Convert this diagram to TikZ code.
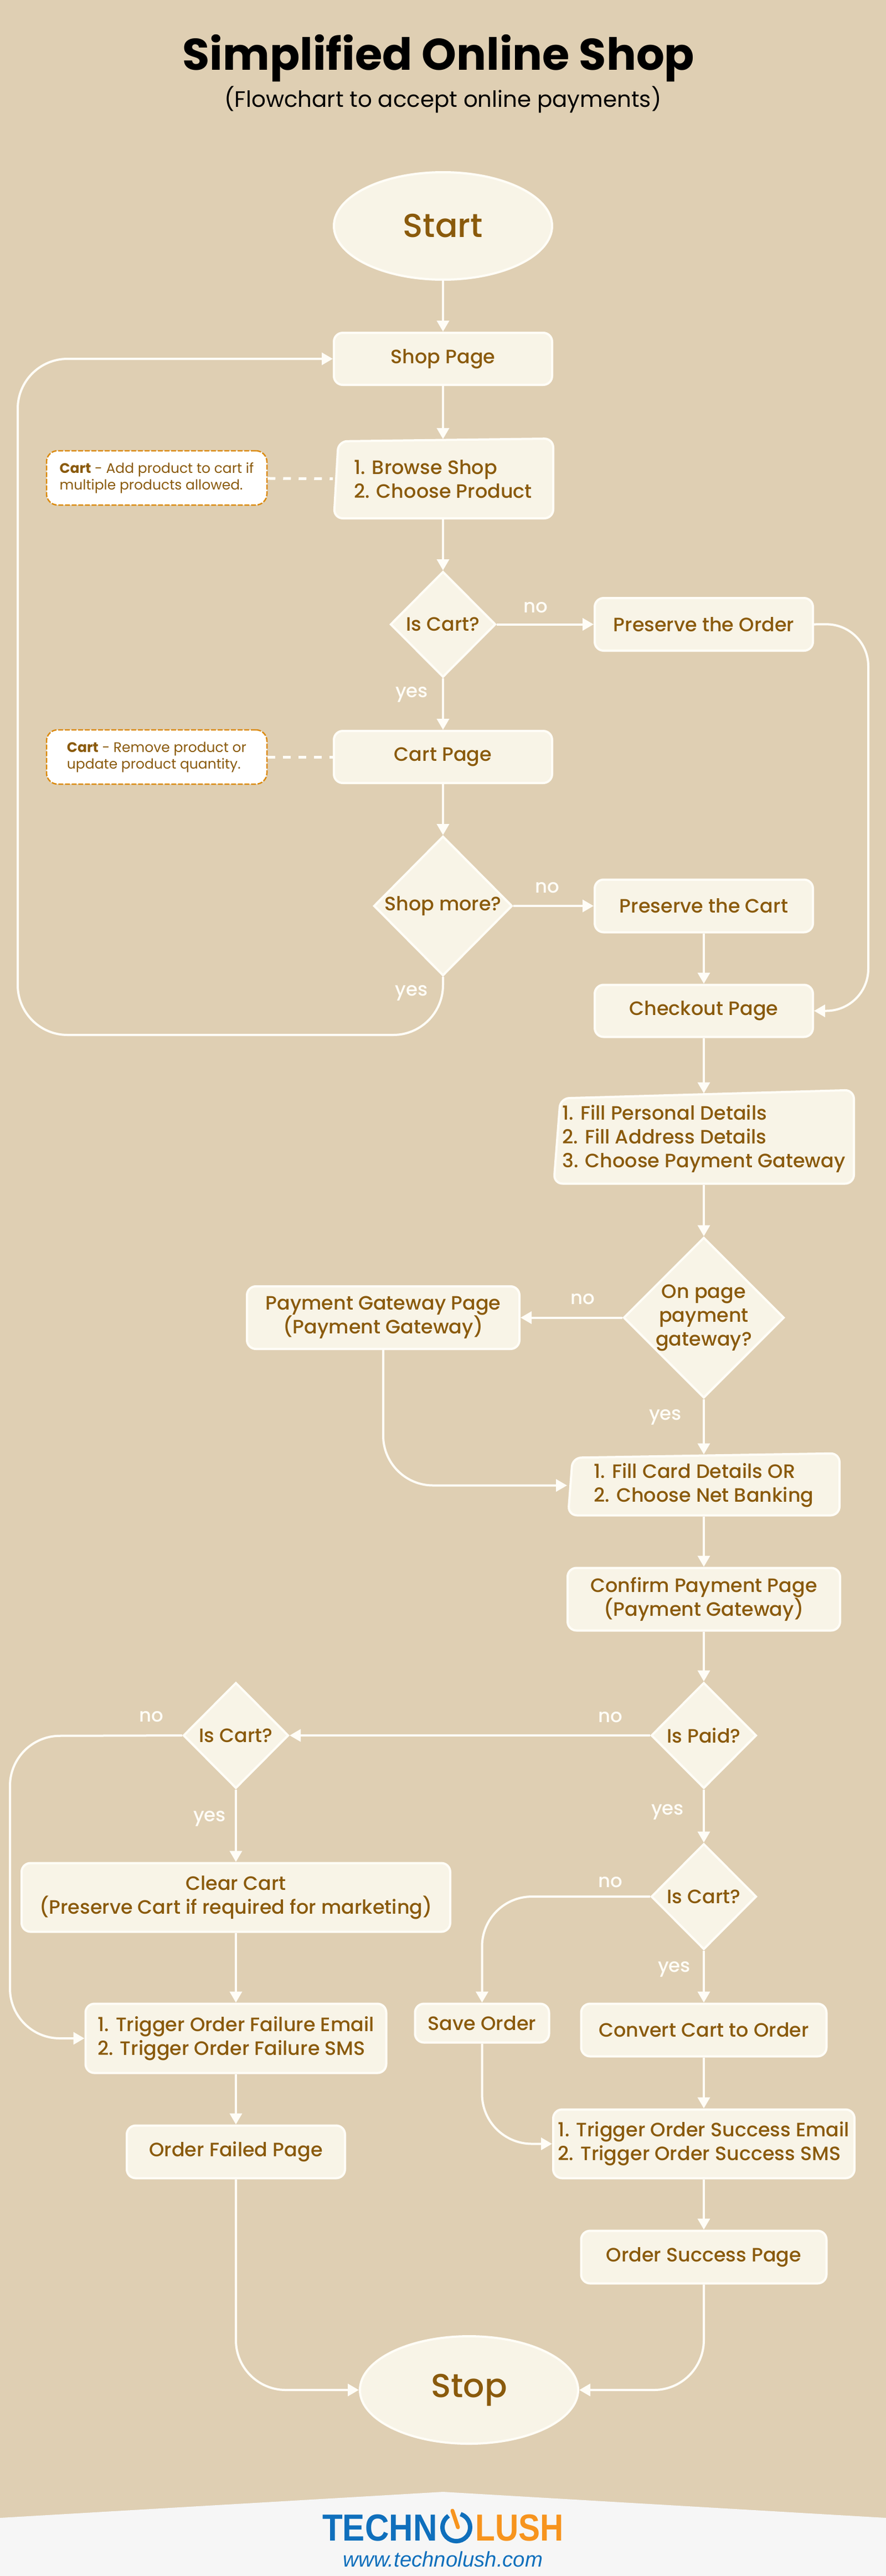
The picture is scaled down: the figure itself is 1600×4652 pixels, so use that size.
\documentclass[tikz,border=0pt]{standalone}
\usepackage{fontspec}
\usepackage{tikz}
\usetikzlibrary{positioning,shapes.geometric,arrows.meta,backgrounds}
\setmainfont{Poppins}
\newfontfamily\medfont{Poppins Medium}
\newfontfamily\logofont{Liberation Sans Bold}
\newfontfamily\urlfont{Liberation Sans Italic}
\definecolor{pagecol}{HTML}{DFCFB3}
\definecolor{boxcol}{HTML}{F8F4E7}
\definecolor{linecol}{HTML}{FFFDF7}
\definecolor{textcol}{HTML}{8A5A0C}
\definecolor{notecol}{HTML}{DB8A0E}
\definecolor{bandcol}{HTML}{F6F6F6}
\definecolor{logoblue}{HTML}{0F6FBC}
\definecolor{logoorange}{HTML}{F7941E}
\tikzset{
  box/.style={rectangle,draw=linecol,fill=boxcol,line width=4pt,rounded corners=16pt,inner sep=0pt,text=textcol,align=center,font=\medfont\fontsize{35}{43}\selectfont},
  skewtext/.style={box,draw=none,fill=none,align=left},
  skewbox/.style={draw=linecol,fill=boxcol,line width=4pt,rounded corners=16pt},
  decision/.style={diamond,draw=linecol,fill=boxcol,line width=4pt,inner sep=0pt,text=textcol,align=center,font=\medfont\fontsize{35}{43}\selectfont},
  terminal/.style={ellipse,draw=linecol,fill=boxcol,line width=4pt,inner sep=0pt,minimum width=394pt,minimum height=194pt,text=textcol,font=\medfont\fontsize{60}{70}\selectfont},
  notebox/.style={rectangle,draw=notecol,fill=white,line width=2.5pt,dash pattern=on 9pt off 3pt,rounded corners=20pt,inner sep=0pt,minimum width=398pt,minimum height=98pt,text=textcol,align=left,font=\fontsize{25}{30}\selectfont},
  conn/.style={->,color=linecol,line width=4pt},
  dashconn/.style={color=linecol,line width=5pt,dash pattern=on 14pt off 14pt},
  lbl/.style={inner sep=0pt,text=linecol,font=\medfont\fontsize{34}{43}\selectfont}
}
\begin{document}
\begin{tikzpicture}[x=1pt,y=-1pt,>={Triangle[length=20pt,width=22pt]}]
\useasboundingbox (0,0) rectangle (1600,4652);
\begin{scope}[on background layer]
\fill[pagecol] (0,0) rectangle (1600,4652);
\fill[bandcol] (0,4547) -- (800,4500) -- (1600,4547) -- (1600,4652) -- (0,4652) -- cycle;
\end{scope}
\node[anchor=base,font=\fontseries{b}\bfseries\fontsize{80}{90}\selectfont](title) at (792,126){Simplified Online Shop};
\node[anchor=base,font=\fontsize{40.4}{50}\selectfont](subtitle) at (800,193){(Flowchart to accept online payments)};
\node[terminal](start) at (800,408){Start};
\node[box,minimum width=394pt,minimum height=94pt,below=92pt of start](shop){Shop Page};
\draw[conn](start) edge (shop);
\node[skewtext,minimum width=394pt,minimum height=141pt,below=96pt of shop](browse){1. Browse Shop\\2. Choose Product};
\draw[conn](shop) edge (browse);
\node[notebox](cartnote) at (283,863){\textbf{Cart} - Add product to cart if\\multiple products allowed.};
\draw[dashconn](cartnote) edge (browse);
\node[decision,minimum width=190pt,minimum height=191pt,below=92pt of browse](iscart){Is Cart?};
\draw[conn](browse) edge (iscart);
\node[box,minimum width=394pt,minimum height=95pt,right=175pt of iscart](presorder){Preserve the Order};
\draw[conn](iscart) edge node[lbl,pos=.4,above=19pt](nocart){no} (presorder);
\node[box,minimum width=394pt,minimum height=94pt,below=93pt of iscart](cartpage){Cart Page};
\draw[conn](iscart) edge node[lbl,pos=.32,left=25pt](yescart){yes} (cartpage);
\node[notebox](updatenote) at (283,1367){\textbf{Cart} - Remove product or\\update product quantity.};
\draw[dashconn](updatenote) edge (cartpage);
\node[decision,minimum width=250pt,minimum height=252pt,below=92pt of cartpage](shopmore){Shop more?};
\draw[conn](cartpage) edge (shopmore);
\node[box,minimum width=394pt,minimum height=95pt,right=145pt of shopmore](prescart){Preserve the Cart};
\draw[conn](shopmore) edge node[lbl,pos=.42,above=21pt](nomore){no} (prescart);
\node[box,minimum width=394pt,minimum height=94pt,below=91pt of prescart](checkout){Checkout Page};
\draw[conn](prescart) edge (checkout);
\coordinate (loopleft) at (32,1869);
\draw[conn,rounded corners=90pt](shopmore.south) |- (loopleft) |- (shop.west);
\node[lbl](yesmore) at (743,1793){yes};
\coordinate (loopright) at (1568,1127);
\draw[conn,rounded corners=76pt](presorder.east) -- (loopright) |- (checkout.east);
\node[skewtext,minimum width=542pt,minimum height=161pt,below=100pt of checkout](details){1. Fill Personal Details\\2. Fill Address Details\\3. Choose Payment Gateway};
\draw[conn](checkout) edge (details);
\node[decision,minimum width=290pt,minimum height=290pt,inner sep=-10pt,below=93pt of details](onpage){On page\\payment\\gateway?};
\draw[conn](details) edge (onpage);
\node[box,minimum width=492pt,minimum height=113pt,left=184pt of onpage](gateway){Payment Gateway Page\\(Payment Gateway)};
\draw[conn](onpage) edge node[lbl,pos=.39,above=22pt](nopage){no} (gateway);
\node[skewtext,minimum width=490pt,minimum height=108pt,below=100pt of onpage](card){1. Fill Card Details OR\\2. Choose Net Banking};
\draw[conn](onpage) edge node[lbl,pos=.33,left=38pt](yespage){yes} (card);
\draw[conn,rounded corners=90pt](gateway.south) |- (card.west);
\node[box,minimum width=492pt,minimum height=113pt,below=91pt of card](confirm){Confirm Payment Page\\(Payment Gateway)};
\draw[conn](card) edge (confirm);
\node[decision,minimum width=190pt,minimum height=191pt,below=90pt of confirm](paid){Is Paid?};
\draw[conn](confirm) edge (paid);
\node[decision,minimum width=190pt,minimum height=191pt,left=651pt of paid](failcart){Is Cart?};
\draw[conn](paid) edge node[lbl,pos=.11,above=21pt](nopaid){no} (failcart);
\node[lbl](nofail) at (273,3100){no};
\node[decision,minimum width=190pt,minimum height=191pt,below=96pt of paid](paycart){Is Cart?};
\draw[conn](paid) edge node[lbl,pos=.43,left=34pt](yespaid){yes} (paycart);
\node[box,minimum width=774pt,minimum height=124pt,below=131pt of failcart](clear){Clear Cart\\(Preserve Cart if required for marketing)};
\draw[conn](failcart) edge node[lbl,pos=.4,left=16pt](yesfail){yes} (clear);
\node[box,align=left,minimum width=543pt,minimum height=125pt,below=126pt of clear](failmsg){1. Trigger Order Failure Email\\2. Trigger Order Failure SMS};
\draw[conn](clear) edge (failmsg);
\coordinate (failbend) at (18,3135);
\draw[conn,rounded corners=90pt](failcart.west) -- (failbend) |- (failmsg.west);
\node[box,minimum width=394pt,minimum height=95pt,below=91pt of failmsg](failed){Order Failed Page};
\draw[conn](failmsg) edge (failed);
\node[box,minimum width=443pt,minimum height=95pt,below=94pt of paycart](convert){Convert Cart to Order};
\draw[conn](paycart) edge node[lbl,pos=.36,left=22pt](yespay){yes} (convert);
\node[box,minimum width=242pt,minimum height=70pt,left=54pt of convert.north west,anchor=north east](save){Save Order};
\draw[conn,rounded corners=90pt](paycart.west) -| (save.north);
\node[lbl](nopay) at (1102,3399){no};
\node[box,align=left,minimum width=544pt,minimum height=124pt,below=92pt of convert](succmsg){1. Trigger Order Success Email\\2. Trigger Order Success SMS};
\draw[conn](convert) edge (succmsg);
\draw[conn,rounded corners=90pt](save.south) |- (succmsg.west);
\node[box,minimum width=443pt,minimum height=95pt,below=91pt of succmsg](success){Order Success Page};
\draw[conn](succmsg) edge (success);
\node[terminal](stop) at (847,4316){Stop};
\draw[conn,rounded corners=90pt](failed.south) |- (stop.west);
\draw[conn,rounded corners=90pt](success.south) |- (stop.east);
\begin{scope}[on background layer]
\draw[skewbox] ([xshift=10pt,yshift=-4pt]browse.north west) -- ([yshift=1pt]browse.north east) -- ([yshift=2pt]browse.south east) -- ([xshift=2pt,yshift=2pt]browse.south west) -- cycle;
\draw[skewbox] ([xshift=14pt,yshift=-9pt]details.north west) -- ([xshift=-2pt,yshift=6pt]details.north east) -- ([xshift=-2pt,yshift=2pt]details.south east) -- ([xshift=2pt,yshift=2pt]details.south west) -- cycle;
\draw[skewbox] ([xshift=10pt,yshift=-6pt]card.north west) -- ([xshift=-2pt,yshift=2pt]card.north east) -- ([xshift=-2pt,yshift=2pt]card.south east) -- ([xshift=2pt,yshift=2pt]card.south west) -- cycle;
\end{scope}
\node[anchor=base west,text=logoblue,inner sep=0pt,font=\logofont\fontsize{68}{70}\selectfont](logoleft) at (582,4588){\scalebox{.885}[1]{TECHN}};
\node[anchor=base east,text=logoorange,inner sep=0pt,font=\logofont\fontsize{68}{70}\selectfont](logoright) at (1018,4588){\scalebox{.86}[1]{LUSH}};
\coordinate (ring) at (824,4564);
\draw[logoblue,line width=8pt] ([shift={(124:25pt)}]ring) arc[start angle=124,end angle=432,radius=25pt];
\draw[logoorange,line width=7pt,line cap=round] (817,4534) -- (827,4564);
\node[anchor=base,text=logoblue,inner sep=0pt,font=\urlfont\fontsize{38.4}{42}\selectfont](url) at (800,4635){www.technolush.com};
\end{tikzpicture}
\end{document}
